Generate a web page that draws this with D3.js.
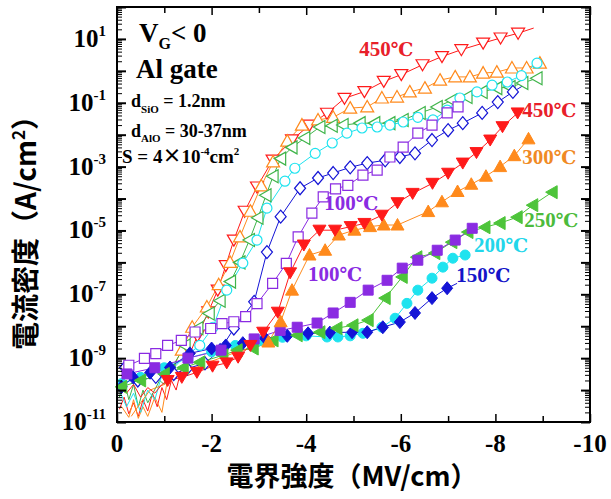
<!DOCTYPE html>
<html><head><meta charset="utf-8">
<script src="https://cdn.jsdelivr.net/npm/d3@7"></script>
<style>
html,body{margin:0;padding:0;background:#fff;}
svg{display:block;}
.serif{font-family:"Liberation Serif","Times New Roman",serif;font-weight:bold;}
.cjk{font-family:"Noto Sans CJK JP","Noto Sans",sans-serif;font-weight:bold;}
</style></head>
<body>
<svg id="chart" width="611" height="499"></svg>
<script>
// ---------------- DATA (E in MV/cm, J in A/cm^2) ----------------
// Hollow symbols
const redOpenLead   = [[-0.05,2.5e-11],[-0.15,6e-11],[-0.25,1.8e-11],[-0.35,4e-11],[-0.45,1.5e-11],[-0.55,5e-11],[-0.65,2.2e-11],[-0.75,8e-11],[-0.85,3e-11],[-0.95,1.2e-10],[-1.05,5e-11],[-1.15,2e-10],[-1.25,1e-10],[-1.35,4e-10]];
const redOpen       = [[-1.50,1.0e-9],[-1.70,5.0e-9],[-1.93,2.8e-8],[-2.13,1.35e-7],[-2.30,7.9e-7],[-2.47,5.0e-6],[-2.70,4.0e-5],[-2.96,2.3e-4],[-3.29,1.6e-3],[-3.70,6.9e-3],[-4.07,2.0e-2],[-4.44,4.7e-2],[-4.81,0.138],[-5.23,0.224],[-5.64,0.468],[-6.01,0.76],[-6.46,1.55],[-6.87,2.8],[-7.28,4.6],[-7.74,7.4],[-8.11,10.7],[-8.48,15.1]];
const redOpenTail   = [[-8.81,21.9]];

const orangeOpenLead = [[-0.10,3e-11],[-0.25,1.4e-11],[-0.35,5e-11],[-0.45,1.3e-11],[-0.55,3e-11],[-0.65,1.5e-11],[-0.80,6e-11],[-0.95,2e-11],[-1.05,1.5e-10],[-1.15,2.5e-10],[-1.25,8e-10]];
const orangeOpen     = [[-1.37,1.78e-9],[-1.59,9.3e-9],[-1.90,4.0e-8],[-2.15,2.0e-7],[-2.39,1.0e-6],[-2.60,6.3e-6],[-2.82,4.0e-5],[-3.05,2.5e-4],[-3.30,1.4e-3],[-3.60,6.3e-3],[-3.91,2.0e-2],[-4.25,2.9e-2],[-4.57,3.5e-2],[-4.93,6.8e-2],[-5.29,7.4e-2],[-5.60,0.141],[-5.92,0.151],[-6.19,0.219],[-6.51,0.288],[-6.83,0.513],[-7.15,0.646],[-7.46,0.646],[-7.74,0.851],[-8.03,0.912],[-8.35,1.23],[-8.66,1.23],[-8.94,1.74]];

const greenOpenLead = [[-0.05,6e-11],[-0.15,2e-10],[-0.25,5e-11],[-0.35,1.5e-10],[-0.45,3e-11],[-0.55,1e-10],[-0.65,4e-11],[-0.76,8e-11],[-0.90,2e-10],[-1.00,1.5e-10]];
const greenOpen     = [[-1.12,4.0e-10],[-1.44,2.5e-9],[-1.71,8.7e-9],[-1.95,2.5e-8],[-2.18,6.3e-8],[-2.40,2.5e-7],[-2.60,1.0e-6],[-2.80,5.0e-6],[-2.98,2.5e-5],[-3.15,1.26e-4],[-3.30,5.0e-4],[-3.46,1.78e-3],[-3.70,4.0e-3],[-3.97,7.9e-3],[-4.29,1.74e-2],[-4.55,1.9e-2],[-4.78,2.0e-2],[-5.14,2.3e-2],[-5.45,2.3e-2],[-5.77,2.3e-2],[-6.05,2.9e-2],[-6.41,4.8e-2],[-6.77,7.4e-2],[-7.08,0.12],[-7.40,0.151],[-7.72,0.219],[-8.03,0.288],[-8.31,0.309],[-8.58,0.417],[-8.88,0.589]];

const cyanOpenLead = [[-0.05,1e-10],[-0.20,3e-11],[-0.35,8e-11],[-0.50,2e-11],[-0.65,1e-10],[-0.80,5e-11],[-0.95,3e-10],[-1.10,2e-10],[-1.25,6e-10],[-1.40,1e-9],[-1.55,1.5e-9]];
const cyanOpen     = [[-1.75,2.5e-9],[-2.03,9.3e-9],[-2.32,1.35e-7],[-2.66,9.5e-7],[-2.96,5.0e-6],[-3.17,5.0e-5],[-3.55,3.5e-4],[-3.76,8.9e-4],[-4.19,2.6e-3],[-4.55,5.5e-3],[-4.86,1.12e-2],[-5.18,1.62e-2],[-5.50,1.74e-2],[-5.77,2.0e-2],[-6.05,2.5e-2],[-6.36,3.5e-2],[-6.68,2.9e-2],[-6.98,5.9e-2],[-7.25,0.141],[-7.61,0.219],[-7.93,0.355],[-8.25,0.447],[-8.55,0.708],[-8.88,1.74]];

const blueOpen     = [[-0.17,5.1e-10],[-0.44,2.0e-10],[-0.82,2.6e-10],[-1.20,3.2e-10],[-1.48,4.7e-10],[-1.86,6.9e-10],[-2.18,1.78e-9],[-2.47,8.5e-9],[-2.90,5.8e-8],[-3.17,2.1e-6],[-3.46,2.7e-5],[-3.87,2.1e-4],[-4.25,4.4e-4],[-4.57,6.3e-4],[-4.93,9.5e-4],[-5.29,1.29e-3],[-5.67,1.58e-3],[-5.98,2.0e-3],[-6.30,2.6e-3],[-6.66,6.8e-3],[-7.00,1.38e-2],[-7.31,2.3e-2],[-7.72,4.8e-2],[-8.05,0.105],[-8.37,0.219]];
const blueOpenTail = [[-8.60,0.355]];

const purpleOpen   = [[-0.25,6.0e-10],[-0.58,9.8e-10],[-0.82,1.38e-9],[-1.07,2.5e-9],[-1.36,3.6e-9],[-1.65,6.6e-9],[-1.98,8.5e-9],[-2.22,1.2e-8],[-2.47,1.38e-8],[-2.72,2.0e-8],[-2.96,5.1e-8],[-3.29,2.2e-7],[-3.58,9.3e-7],[-3.83,6.3e-6],[-4.12,3.5e-5],[-4.36,1.12e-4],[-4.62,2.0e-4],[-4.88,2.6e-4],[-5.20,5.4e-4],[-5.50,7.8e-4],[-5.77,2.0e-3],[-6.05,4.1e-3],[-6.36,1.12e-2],[-6.66,2.0e-2],[-6.98,4.8e-2],[-7.21,7.4e-2]];

// Filled symbols
const redFilledLead = [[-0.05,2e-10],[-0.20,8e-11],[-0.35,1.5e-10],[-0.50,6e-11],[-0.65,1.2e-10],[-0.80,8e-11],[-0.95,1.5e-10]];
const redFilled     = [[-1.07,2.0e-10],[-1.37,2.5e-10],[-1.69,3.6e-10],[-2.02,5.6e-10],[-2.32,7.1e-10],[-2.56,1.07e-9],[-2.82,2.5e-9],[-3.09,6.5e-9],[-3.40,2.75e-8],[-3.66,4.7e-7],[-3.95,3.5e-6],[-4.28,1.02e-5],[-4.61,1.02e-5],[-4.94,1.32e-5],[-5.23,1.66e-5],[-5.60,3.0e-5],[-5.93,7.4e-5],[-6.25,1.45e-4],[-6.67,3.0e-4],[-7.00,6.2e-4],[-7.31,1.29e-3],[-7.60,2.75e-3],[-7.89,6.8e-3],[-8.15,1.78e-2],[-8.47,4.8e-2]];

const orangeFilledLead = [[-0.30,1.5e-11],[-0.50,4e-11],[-0.70,1e-10],[-1.00,1.5e-10],[-1.50,4e-10],[-2.00,8e-10],[-2.50,1.5e-9],[-2.90,2.2e-9]];
const orangeFilled     = [[-3.20,3.2e-9],[-3.46,1.38e-8],[-3.70,1.35e-7],[-4.07,1.7e-6],[-4.40,2.4e-6],[-4.69,7.2e-6],[-5.02,1.02e-5],[-5.35,1.32e-5],[-5.64,1.48e-5],[-5.93,1.48e-5],[-6.58,3.9e-5],[-6.87,7.9e-5],[-7.20,1.66e-4],[-7.49,2.8e-4],[-7.80,5.0e-4],[-8.10,1.0e-3],[-8.40,2.2e-3],[-8.70,7.4e-3]];

const greenFilled = [[-0.10,1.26e-10],[-0.50,2.0e-10],[-1.00,3.2e-10],[-1.40,5.0e-10],[-1.75,7.4e-10],[-2.24,1.23e-9],[-2.54,1.78e-9],[-2.88,2.0e-9],[-3.30,3.6e-9],[-3.81,5.2e-9],[-4.29,6.5e-9],[-4.65,8.7e-9],[-4.99,1.07e-8],[-5.31,1.55e-8],[-5.67,7.6e-8],[-6.03,3.5e-7],[-6.34,1.45e-6],[-6.72,1.95e-6],[-7.08,4.3e-6],[-7.42,8.9e-6],[-7.78,1.26e-5],[-8.10,1.7e-5],[-8.46,2.6e-5],[-8.79,6.2e-5],[-9.20,1.58e-4]];

const cyanFilled = [[-0.10,1.6e-10],[-0.50,2.5e-10],[-1.00,5.0e-10],[-1.50,1.0e-9],[-2.00,1.58e-9],[-2.50,2.5e-9],[-3.00,3.5e-9],[-3.50,4.5e-9],[-4.00,5.0e-9],[-4.44,4.6e-9],[-4.67,4.6e-9],[-4.93,5.0e-9],[-5.20,6.0e-9],[-5.60,9.3e-9],[-5.88,1.78e-8],[-6.13,5.2e-8],[-6.36,1.35e-7],[-6.66,3.2e-7],[-6.89,7.1e-7],[-7.10,1.35e-6],[-7.36,1.7e-6]];

const blueFilled     = [[-0.10,1.26e-10],[-0.34,2.5e-10],[-0.70,3.5e-10],[-1.12,5.1e-10],[-1.54,1.41e-9],[-2.00,2.0e-9],[-2.30,2.5e-9],[-2.66,2.95e-9],[-3.13,4.2e-9],[-3.60,5.0e-9],[-4.04,6.0e-9],[-4.50,6.3e-9],[-4.97,6.5e-9],[-5.29,6.5e-9],[-5.62,9.3e-9],[-5.98,1.35e-8],[-6.30,2.6e-8],[-6.66,7.6e-8],[-6.98,1.55e-7]];
const blueFilledTail = [[-7.19,2.2e-7]];

const purpleFilled = [[-0.21,3.2e-10],[-0.80,5.0e-10],[-1.50,1.0e-9],[-2.20,1.78e-9],[-2.90,4.0e-9],[-3.45,7.4e-9],[-3.81,9.3e-9],[-4.23,1.26e-8],[-4.57,2.6e-8],[-4.93,5.6e-8],[-5.31,1.35e-7],[-5.71,2.75e-7],[-6.03,6.6e-7],[-6.36,1.17e-6],[-6.77,2.4e-6],[-7.15,5.0e-6],[-7.51,1.17e-5]];

// Temperature labels [text, E, J-position, colour]
const tempLabels = [
  ["450", -5.12, 3.0,   "#e8202a"],
  ["450", -8.57, 0.035, "#e8202a"],
  ["300", -8.57, 1.2e-3,"#f08a24"],
  ["250", -8.61, 1.3e-5,"#4cbb3c"],
  ["200", -7.55, 2.1e-6,"#22d6ea"],
  ["150", -7.17, 2.4e-7,"#1414c8"],
  ["100", -4.38, 4.4e-5,"#8a2be2"],
  ["100", -4.04, 2.7e-7,"#8a2be2"]
];
const xTickLabels = ["0","-2","-4","-6","-8","-10"];
const yTickExponents = [1,-1,-3,-5,-7,-9,-11];

// ---------------- LAYOUT ----------------
const W = 611, Hh = 499;
const m = {l:117, r:21, t:7, b:77};
const pw = W - m.l - m.r, ph = Hh - m.t - m.b;
const svg = d3.select("#chart");
const x = d3.scaleLinear().domain([0,-10]).range([m.l, m.l+pw]);
const y = d3.scaleLog().domain([1e-11,1e2]).range([m.t+ph, m.t]);

const C = {red:"#ff1a1a", orange:"#ff8a1c", green:"#4dc43a", greenO:"#3fb44a", cyan:"#1ee3ef", blue:"#1414d6", purple:"#8a2be2"};

const series = [
  {lead:redOpenLead, marks:redOpen, tail:redOpenTail, color:C.red, shape:"down", open:true},
  {lead:orangeOpenLead, marks:orangeOpen, tail:[], color:C.orange, shape:"up", open:true},
  {lead:greenOpenLead, marks:greenOpen, tail:[], color:C.greenO, shape:"left", open:true},
  {lead:cyanOpenLead, marks:cyanOpen, tail:[], color:C.cyan, shape:"circle", open:true},
  {lead:[], marks:blueOpen, tail:blueOpenTail, color:C.blue, shape:"diamond", open:true},
  {lead:[], marks:purpleOpen, tail:[], color:C.purple, shape:"square", open:true},
  {lead:[], marks:cyanFilled, tail:[], color:C.cyan, shape:"circle", open:false},
  {lead:[], marks:blueFilled, tail:blueFilledTail, color:C.blue, shape:"diamond", open:false},
  {lead:[], marks:greenFilled, tail:[], color:C.green, shape:"left", open:false},
  {lead:[], marks:purpleFilled, tail:[], color:C.purple, shape:"square", open:false},
  {lead:orangeFilledLead, marks:orangeFilled, tail:[], color:C.orange, shape:"up", open:false},
  {lead:redFilledLead, marks:redFilled, tail:[], color:C.red, shape:"down", open:false}
];

function shapePath(s){
  switch(s){
    case "down": return "M0,6 L6.5,-5 L-6.5,-5 Z";
    case "up": return "M0,-6.5 L6.5,5 L-6.5,5 Z";
    case "left": return "M-6.5,0 L5,-6.5 L5,6.5 Z";
    case "square": return "M-5,-5 H5 V5 H-5 Z";
    case "diamond": return "M0,-6.5 L5.5,0 L0,6.5 L-5.5,0 Z";
    case "circle": return "M5,0 A5,5 0 1,1 -5,0 A5,5 0 1,1 5,0 Z";
  }
}

const plot = svg.append("g");
const line = d3.line().x(d=>x(d[0])).y(d=>y(d[1]));

series.forEach(s=>{
  const all = s.lead.concat(s.marks, s.tail);
  plot.append("path").datum(all).attr("d", line)
    .attr("fill","none").attr("stroke", s.color).attr("stroke-width",1);
});
series.forEach(s=>{
  plot.append("g").selectAll("path").data(s.marks).join("path")
    .attr("transform", d=>`translate(${x(d[0])},${y(d[1])})`)
    .attr("d", shapePath(s.shape))
    .attr("fill", s.open ? "#fff" : s.color)
    .attr("stroke", s.color).attr("stroke-width", s.open?1.2:1);
});

// ---------------- AXES ----------------
const xt = x.ticks(10);
const yt = y.ticks(20);
const isMajorY = d => Math.abs(Math.log10(d) - Math.round(Math.log10(d))) < 1e-6;

const gb = svg.append("g").attr("transform",`translate(0,${m.t+ph})`)
  .call(d3.axisBottom(x).tickValues(xt).tickSize(-7).tickFormat(""));
gb.selectAll(".tick line").attr("y2", d=> (Math.round(d)%2===0)? -8 : -6).attr("stroke-width",1.5);
const gt = svg.append("g").attr("transform",`translate(0,${m.t})`)
  .call(d3.axisTop(x).tickValues(xt).tickSize(-7).tickFormat(""));
gt.selectAll(".tick line").attr("y2", d=> (Math.round(d)%2===0)? 8 : 6).attr("stroke-width",1.5);
const gl = svg.append("g").attr("transform",`translate(${m.l},0)`)
  .call(d3.axisLeft(y).tickValues(yt).tickSize(-5).tickFormat(""));
gl.selectAll(".tick line").attr("x2", d=> isMajorY(d)? 9 : 5).attr("stroke-width", d=> isMajorY(d)?2:1);
const gr = svg.append("g").attr("transform",`translate(${m.l+pw},0)`)
  .call(d3.axisRight(y).tickValues(yt).tickSize(-5).tickFormat(""));
gr.selectAll(".tick line").attr("x2", d=> isMajorY(d)? -9 : -5).attr("stroke-width", d=> isMajorY(d)?2:1);
[gb,gt,gl,gr].forEach(g=>g.select(".domain").remove());

svg.append("rect").attr("x",m.l).attr("y",m.t).attr("width",pw).attr("height",ph)
  .attr("fill","none").attr("stroke","#000").attr("stroke-width",2);

// x tick labels
svg.append("g").selectAll("text").data(xTickLabels).join("text")
  .attr("class","serif").attr("font-size",25)
  .attr("x", d=>x(+d)).attr("y", m.t+ph+30).attr("text-anchor","middle")
  .text(d=>d);
// y tick labels
const ylab = svg.append("g").selectAll("text").data(yTickExponents).join("text")
  .attr("class","serif").attr("font-size",25).attr("text-anchor","end")
  .attr("x", 106).attr("y", d=>y(Math.pow(10,d))+8);
ylab.append("tspan").text("10");
ylab.append("tspan").attr("font-size",15).attr("dy",-11).text(d=>d);

// axis titles
svg.append("text").attr("class","cjk").attr("font-size",27).attr("text-anchor","middle")
  .attr("x", 352).attr("y", 486).text("電界強度（MV/cm）");
const yt2 = svg.append("text").attr("class","cjk").attr("font-size",28).attr("text-anchor","middle")
  .attr("transform","translate(36,226) rotate(-90)");
yt2.append("tspan").text("電流密度（A/cm");
yt2.append("tspan").attr("font-size",17).attr("dy",-11).text("2");
yt2.append("tspan").attr("dy",11).text("）");

// annotations
const a1 = svg.append("text").attr("class","serif").attr("font-size",27).attr("x",139).attr("y",42);
a1.append("tspan").text("V");
a1.append("tspan").attr("font-size",16).attr("dy",7).text("G");
a1.append("tspan").attr("dy",-7).text("< 0");
svg.append("text").attr("class","serif").attr("font-size",27).attr("x",136).attr("y",78).text("Al gate");
const a3 = svg.append("text").attr("class","serif").attr("font-size",18).attr("x",131).attr("y",107);
a3.append("tspan").text("d");
a3.append("tspan").attr("font-size",11).attr("dy",6).text("SiO");
a3.append("tspan").attr("dy",-6).text(" = 1.2nm");
const a4 = svg.append("text").attr("class","serif").attr("font-size",18).attr("x",131).attr("y",137);
a4.append("tspan").text("d");
a4.append("tspan").attr("font-size",11).attr("dy",5).text("AlO");
a4.append("tspan").attr("dy",-5).text(" = 30-37nm");
const a5 = svg.append("text").attr("class","serif").attr("font-size",19).attr("x",122).attr("y",163);
a5.append("tspan").text("S = 4");
a5.append("tspan").attr("class","cjk").attr("font-size",19).attr("font-weight","normal").text("×");
a5.append("tspan").text("10");
a5.append("tspan").attr("font-size",11).attr("dy",-8).text("-4");
a5.append("tspan").attr("dy",8).text("cm");
a5.append("tspan").attr("font-size",11).attr("dy",-8).text("2");

// temperature labels
const tl = svg.append("g").selectAll("text").data(tempLabels).join("text")
  .attr("class","serif").attr("font-size",21)
  .attr("x", d=>x(d[1])).attr("y", d=>y(d[2]))
  .attr("fill", d=>d[3]);
tl.append("tspan").text(d=>d[0]);
tl.append("tspan").attr("font-family","DejaVu Serif").attr("font-size",19).text("℃");
</script>
</body></html>
